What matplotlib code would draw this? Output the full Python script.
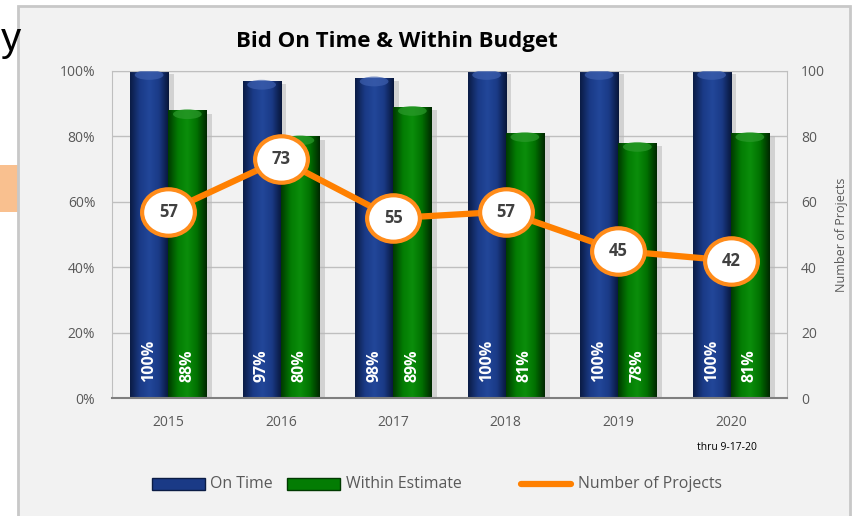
import numpy as np
import matplotlib
matplotlib.use("Agg")
import matplotlib.pyplot as plt
from matplotlib.patches import Rectangle, Ellipse
from matplotlib.lines import Line2D
from matplotlib.path import Path
from matplotlib.transforms import Affine2D
from matplotlib.colors import LinearSegmentedColormap

plt.rcParams['font.family'] = ['Open Sans', 'DejaVu Sans']

years = ['2015', '2016', '2017', '2018', '2019', '2020']
on_time = [100, 97, 98, 100, 100, 100]
within_est = [88, 80, 89, 81, 78, 81]
num_projects = [57, 73, 55, 57, 45, 42]
left_ticks = [0, 20, 40, 60, 80, 100]
right_ticks = [0, 20, 40, 60, 80, 100]

W, H = 853, 516
fig = plt.figure(figsize=(W / 100, H / 100), dpi=100, facecolor='white')

# slide artifacts and chart panel
fig.patches.append(Rectangle((0, 1 - 212 / H), 18 / W, 47 / H, transform=fig.transFigure,
                             facecolor='#f9c08f', edgecolor='none', zorder=-10))
fig.text(0.5 / W, 1 - 40 / H, 'y', fontsize=29, color='black', va='center', ha='left',
         family=['Liberation Sans'])
fig.patches.append(Rectangle((18.5 / W, -0.01), (850 - 18.5) / W, 1.01 - 5.5 / H,
                             transform=fig.transFigure, facecolor='#f2f2f2',
                             edgecolor='#c8c8c8', lw=2, zorder=-10))

ax = fig.add_axes([112 / W, 1 - 398 / H, (787 - 112) / W, (398 - 71) / H])
ax.patch.set_alpha(0)

x = np.arange(len(years))
bw = 0.34

blue_cmap = LinearSegmentedColormap.from_list('b', ['#0b1c45', '#1a3a86', '#22479a', '#1a3a86', '#08163a'])
green_cmap = LinearSegmentedColormap.from_list('g', ['#003a00', '#037c03', '#0b8e0b', '#017001', '#002800'])

def shade(bars, cmap, cap):
    grad = np.linspace(0, 1, 64).reshape(1, -1)
    for b in bars:
        x0, y0 = b.get_x(), b.get_y()
        w, h = b.get_width(), b.get_height()
        ax.add_patch(Rectangle((x0 + w, y0), 0.05, h - 1, facecolor='#b8b8b8',
                               edgecolor='none', alpha=0.55, zorder=1))
        im = ax.imshow(grad, cmap=cmap, aspect='auto', extent=(x0, x0 + w, y0, y0 + h),
                       zorder=2, interpolation='bicubic')
        im.set_clip_path(b)
        ax.add_patch(Ellipse((x0 + w / 2, y0 + h - 1.2), w * 0.75, 3.0,
                             facecolor=cap, edgecolor='none', alpha=0.7, zorder=3))

b1 = ax.bar(x - bw / 2, on_time, bw, color='#1a3a86', zorder=2)
b2 = ax.bar(x + bw / 2, within_est, bw, color='#037c03', zorder=2)
shade(b1, blue_cmap, '#3d5fae')
shade(b2, green_cmap, '#2c9a2c')
ax.set_xlim(-0.5, len(years) - 0.5)
ax.set_ylim(0, 100)

for xi, v in zip(x, on_time):
    ax.text(xi - bw / 2, 5, f'{v}%', rotation=90, ha='center', va='bottom',
            color='white', fontsize=11.5, fontweight='bold', zorder=6)
for xi, v in zip(x, within_est):
    ax.text(xi + bw / 2, 5, f'{v}%', rotation=90, ha='center', va='bottom',
            color='white', fontsize=11.5, fontweight='bold', zorder=6)

ax.set_yticks(left_ticks)
ax.set_yticklabels([f'{t}%' for t in left_ticks])
ax.yaxis.grid(True, color='#bfbfbf', lw=1)
ax.set_axisbelow(True)
ax.set_xticks(x)
ax.set_xticklabels(years)
ax.tick_params(axis='both', length=0, colors='#595959', labelsize=10)
ax.tick_params(axis='x', pad=12)
ax.tick_params(axis='y', pad=12)
for s in ['left', 'top', 'right']:
    ax.spines[s].set_color('#bfbfbf')
ax.spines['bottom'].set_color('#7f7f7f')
ax.spines['bottom'].set_linewidth(1.5)

ax2 = ax.twinx()
ax2.set_ylim(0, 100)
ax2.set_yticks(right_ticks)
ax2.tick_params(axis='y', length=0, colors='#595959', labelsize=10, pad=10)
for s in ax2.spines.values():
    s.set_visible(False)
ax2.set_ylabel('Number of Projects', color='#595959', fontsize=9, labelpad=7)

ell = Path.unit_circle().transformed(Affine2D().scale(1.0, 0.88))
ax2.plot(x, num_projects, color='#ff8000', lw=4.5, zorder=4, solid_capstyle='round')
ax2.plot(x, num_projects, linestyle='none', marker=ell, markersize=38,
         markerfacecolor='white', markeredgecolor='#ff8c1a', markeredgewidth=3, zorder=5)
for xi, v in zip(x, num_projects):
    ax2.text(xi, v, str(v), ha='center', va='center', fontsize=12, fontweight='bold',
             color='#404040', zorder=6)

fig.text(397 / W, 1 - 42 / H, 'Bid On Time & Within Budget', ha='center', va='center',
         fontsize=16, fontweight='bold', color='black')
fig.text(727 / W, 1 - 447 / H, 'thru 9-17-20', ha='center', va='center', fontsize=7.5,
         color='black')

# legend
ly = 1 - 484 / H
fig.patches.append(Rectangle((152 / W, ly - 6 / H), 53 / W, 12 / H, transform=fig.transFigure,
                             facecolor='#1a3a86', edgecolor='#0b1c45', lw=1))
fig.text(210 / W, ly, 'On Time', va='center', ha='left', fontsize=11.4, color='#595959')
fig.patches.append(Rectangle((287 / W, ly - 6 / H), 53 / W, 12 / H, transform=fig.transFigure,
                             facecolor='#037c03', edgecolor='#003a00', lw=1))
fig.text(346 / W, ly, 'Within Estimate', va='center', ha='left', fontsize=11.4, color='#595959')
fig.add_artist(Line2D([521 / W, 571 / W], [ly, ly], transform=fig.transFigure,
                      color='#ff8000', lw=4.5, solid_capstyle='round'))
fig.text(578 / W, ly, 'Number of Projects', va='center', ha='left', fontsize=11.4, color='#595959')

fig.savefig('out.png', dpi=100, facecolor='white')
